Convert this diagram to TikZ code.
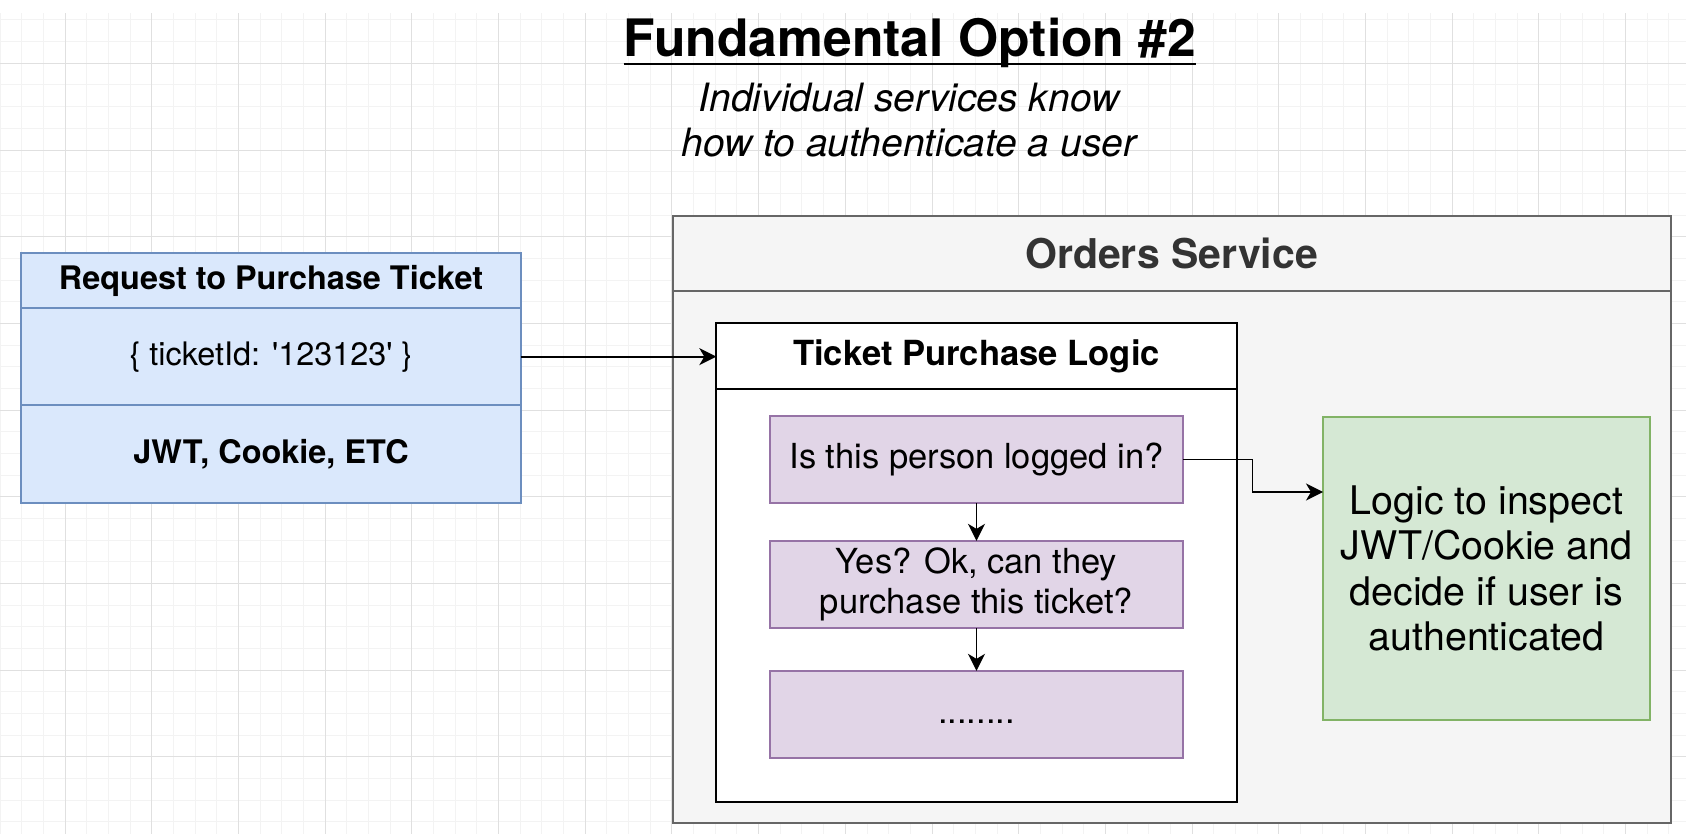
\documentclass[tikz,border=0pt]{standalone}
\usepackage{fontspec}
\setmainfont{TeX Gyre Heros}
\usetikzlibrary{arrows.meta}

\definecolor{gridminor}{HTML}{F3F3F3}
\definecolor{gridmajor}{HTML}{E0E0E0}
\definecolor{reqfill}{HTML}{DAE8FC}
\definecolor{reqline}{HTML}{6C8EBF}
\definecolor{ordfill}{HTML}{F5F5F5}
\definecolor{ordline}{HTML}{666666}
\definecolor{ordtext}{HTML}{333333}
\definecolor{stepfill}{HTML}{E1D5E7}
\definecolor{stepline}{HTML}{9673A6}
\definecolor{authfill}{HTML}{D5E8D4}
\definecolor{authline}{HTML}{82B366}

\begin{document}
\begin{tikzpicture}[x=0.5pt, y=-0.5pt,
    box/.style={draw, rectangle, inner sep=0pt, outer sep=0pt, line width=1pt, align=center},
    reqbox/.style={box, fill=reqfill, draw=reqline, minimum width=249.7pt, font=\fontsize{16.2}{19}\selectfont},
    ordbox/.style={box, fill=ordfill, draw=ordline, minimum width=499pt},
    logicbox/.style={box, fill=white, draw=black, minimum width=260.2pt},
    stepbox/.style={box, fill=stepfill, draw=stepline, line width=0.8pt, minimum width=206.25pt, minimum height=43.5pt, font=\fontsize{17.25}{20}\selectfont},
    authbox/.style={box, fill=authfill, draw=authline, minimum width=163.5pt, minimum height=151.75pt, font=\fontsize{19.7}{22.75}\selectfont},
    link/.style={-{Stealth[length=8.5pt, width=8.5pt, inset=2.5pt]}, line width=0.85pt}]
    \useasboundingbox (0,0) rectangle (1686,840);
    \fill[white] (0,0) rectangle (1686,840);
    % background grid
    \foreach \k in {0,...,77} {
        \draw[gridminor, line width=0.5pt] (\k*21.675,13.3) -- (\k*21.675,834);
    }
    \foreach \j in {-2,...,35} {
        \draw[gridminor, line width=0.5pt] (0,63.3+\j*21.675) -- (1686,63.3+\j*21.675);
    }
    \foreach \k in {3,7,...,75} {
        \draw[gridmajor, line width=0.5pt] (\k*21.675,13.3) -- (\k*21.675,834);
    }
    \foreach \j in {0,4,...,32} {
        \draw[gridmajor, line width=0.5pt] (0,63.3+\j*21.675) -- (1686,63.3+\j*21.675);
    }

    % title
    \node[anchor=base, inner sep=0pt, font=\fontsize{25.8}{30}\selectfont\bfseries] (title) at (910,56.7) {Fundamental Option \#2};
    \draw[line width=1.2pt] ([yshift=-3.6pt]title.base west) -- ([yshift=-3.6pt]title.base east);
    \node[anchor=base, inner sep=0pt, font=\fontsize{19.5}{22.5}\selectfont\itshape] (sub1) at (909,111.7) {Individual services know};
    \node[anchor=base, inner sep=0pt, font=\fontsize{19.5}{22.5}\selectfont\itshape] (sub2) at (909,156.7) {how to authenticate a user};

    % request
    \node[reqbox, minimum height=27.5pt, font=\fontsize{16.2}{19}\selectfont\bfseries] (reqhead) at (271,280.8) {Request to Purchase Ticket};
    \node[reqbox, minimum height=48.35pt] (reqbody) at (271,356.65) {\{ ticketId: \textquotesingle 123123\textquotesingle\ \}};
    \node[reqbox, minimum height=49.15pt, font=\fontsize{16.2}{19}\selectfont\bfseries] (reqauth) at (271,454.15) {JWT, Cookie, ETC};

    % orders service
    \node[ordbox, minimum height=37.5pt, text=ordtext, font=\fontsize{20.5}{24}\selectfont\bfseries] (ordhead) at (1171.6,253.2) {Orders Service};
    \node[ordbox, minimum height=266pt] (ordbody) at (1171.6,556.7) {};

    \node[logicbox, minimum height=32.8pt, font=\fontsize{17.3}{20}\selectfont\bfseries] (logichead) at (976.5,356.2) {Ticket Purchase Logic};
    \node[logicbox, minimum height=206.35pt] (logicbody) at (976.5,595.35) {};

    \node[stepbox] (login) at (976.5,459.5) {Is this person logged in?};
    \node[stepbox] (canbuy) at (976.5,584.35) {Yes? Ok, can they\\purchase this ticket?};
    \node[stepbox, text height=12.4pt, text depth=3.6pt] (more) at (976.5,714.35) {........};

    \node[authbox] (inspect) at (1486.5,568.25) {Logic to inspect\\JWT/Cookie and\\decide if user is\\authenticated};

    % connectors
    \draw[link] (reqbody.east) -- (reqbody.east -| logichead.west);
    \draw[link] (login) -- (canbuy);
    \draw[link] (canbuy) -- (more);
    \coordinate (bend) at (1252.6,492);
    \draw[link] (login.east) -| (bend) -- (bend -| inspect.west);
\end{tikzpicture}
\end{document}
